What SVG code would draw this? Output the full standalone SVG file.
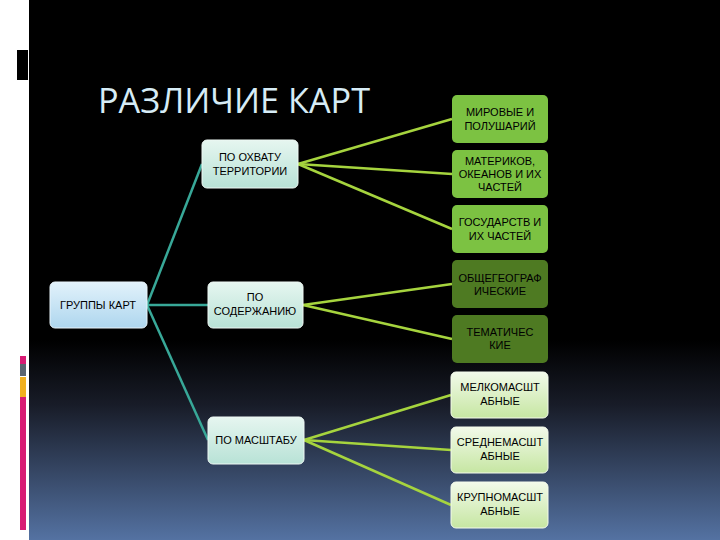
<svg xmlns="http://www.w3.org/2000/svg" width="720" height="540" viewBox="0 0 720 540">
<style>
.t{font-family:"Liberation Sans","DejaVu Sans",sans-serif;font-size:11px;fill:#000;text-anchor:middle}
.title{font-family:"Open Sans","DejaVu Sans",sans-serif;font-size:34px;fill:#d6ecf6}
.c1{stroke:#38a898;stroke-width:2.5;fill:none}
.c2{stroke:#a6d43e;stroke-width:2.5;fill:none}
.n{stroke-width:1}
</style>
<defs>
<linearGradient id="bg" x1="0" y1="0" x2="0" y2="1">
<stop offset="0" stop-color="#000"/>
<stop offset="0.63" stop-color="#000"/>
<stop offset="0.75" stop-color="#181c28"/>
<stop offset="1" stop-color="#5472a2"/>
</linearGradient>
<linearGradient id="gBlue" x1="0" y1="0" x2="0" y2="1">
<stop offset="0" stop-color="#e2f2fb"/>
<stop offset="1" stop-color="#aed6ee"/>
</linearGradient>
<linearGradient id="gAqua" x1="0" y1="0" x2="0" y2="1">
<stop offset="0" stop-color="#e6f6f0"/>
<stop offset="1" stop-color="#b8e2d6"/>
</linearGradient>
<linearGradient id="gPale" x1="0" y1="0" x2="0" y2="1">
<stop offset="0" stop-color="#f2faea"/>
<stop offset="1" stop-color="#c6e6a2"/>
</linearGradient>
</defs>
<rect x="0" y="0" width="720" height="540" fill="#fff"/>
<rect x="29" y="0" width="691" height="540" fill="url(#bg)"/>
<rect x="17" y="50" width="11" height="30" fill="#000"/>
<rect x="20" y="356" width="6" height="8" fill="#d81b74"/>
<rect x="20" y="364" width="6" height="12" fill="#5a6470"/>
<rect x="20" y="377" width="6" height="20" fill="#f0b020"/>
<rect x="20" y="397" width="6" height="133" fill="#d81b74"/>
<text class="title" x="98" y="113" textLength="272" lengthAdjust="spacingAndGlyphs">РАЗЛИЧИЕ КАРТ</text>
<g id="connectors">
<line class="c1" x1="147" y1="305" x2="202" y2="164"/>
<line class="c1" x1="147" y1="305" x2="208" y2="305"/>
<line class="c1" x1="147" y1="305" x2="208" y2="440"/>
<line class="c2" x1="298" y1="164" x2="452" y2="119"/>
<line class="c2" x1="298" y1="164" x2="452" y2="174"/>
<line class="c2" x1="298" y1="164" x2="452" y2="229"/>
<line class="c2" x1="303" y1="305" x2="452" y2="284"/>
<line class="c2" x1="303" y1="305" x2="452" y2="339"/>
<line class="c2" x1="304" y1="440" x2="451" y2="395"/>
<line class="c2" x1="304" y1="440" x2="451" y2="450"/>
<line class="c2" x1="304" y1="440" x2="451" y2="505"/>
</g>
<g id="n-root"><rect class="n" x="50" y="282" width="97" height="46" rx="5" fill="url(#gBlue)" stroke="#e8f4fb"/><text class="t" x="98" y="309">ГРУППЫ КАРТ</text></g>
<g id="n-ohvat"><rect class="n" x="202" y="140" width="96" height="48" rx="5" fill="url(#gAqua)" stroke="#eef8f4"/><text class="t" x="250" y="161">ПО ОХВАТУ</text><text class="t" x="250" y="175">ТЕРРИТОРИИ</text></g>
<g id="n-soder"><rect class="n" x="208" y="282" width="95" height="46" rx="5" fill="url(#gAqua)" stroke="#eef8f4"/><text class="t" x="255" y="301">ПО</text><text class="t" x="255" y="315">СОДЕРЖАНИЮ</text></g>
<g id="n-masht"><rect class="n" x="208" y="417" width="96" height="47" rx="5" fill="url(#gAqua)" stroke="#eef8f4"/><text class="t" x="256" y="444">ПО МАСШТАБУ</text></g>
<g id="n-mir"><rect x="452" y="95" width="96" height="48" rx="5" fill="#7cc242"/><text class="t" x="500" y="116">МИРОВЫЕ И</text><text class="t" x="500" y="130">ПОЛУШАРИЙ</text></g>
<g id="n-mat"><rect x="452" y="150" width="96" height="48" rx="5" fill="#7cc242"/><text class="t" x="500" y="165">МАТЕРИКОВ,</text><text class="t" x="500" y="178">ОКЕАНОВ И ИХ</text><text class="t" x="500" y="191">ЧАСТЕЙ</text></g>
<g id="n-gos"><rect x="452" y="205" width="96" height="48" rx="5" fill="#7cc242"/><text class="t" x="500" y="226">ГОСУДАРСТВ И</text><text class="t" x="500" y="240">ИХ ЧАСТЕЙ</text></g>
<g id="n-obsh"><rect x="452" y="260" width="96" height="48" rx="5" fill="#4e7a22"/><text class="t" x="500" y="282">ОБЩЕГЕОГРАФ</text><text class="t" x="500" y="295">ИЧЕСКИЕ</text></g>
<g id="n-tem"><rect x="452" y="315" width="96" height="48" rx="5" fill="#4e7a22"/><text class="t" x="500" y="336">ТЕМАТИЧЕС</text><text class="t" x="500" y="349">КИЕ</text></g>
<g id="n-melk"><rect class="n" x="451" y="372" width="97" height="46" rx="5" fill="url(#gPale)" stroke="#f4fbec"/><text class="t" x="500" y="391">МЕЛКОМАСШТ</text><text class="t" x="500" y="405">АБНЫЕ</text></g>
<g id="n-sred"><rect class="n" x="451" y="427" width="97" height="46" rx="5" fill="url(#gPale)" stroke="#f4fbec"/><text class="t" x="500" y="446">СРЕДНЕМАСШТ</text><text class="t" x="500" y="460">АБНЫЕ</text></g>
<g id="n-krup"><rect class="n" x="451" y="482" width="97" height="46" rx="5" fill="url(#gPale)" stroke="#f4fbec"/><text class="t" x="500" y="501">КРУПНОМАСШТ</text><text class="t" x="500" y="515">АБНЫЕ</text></g>
</svg>
